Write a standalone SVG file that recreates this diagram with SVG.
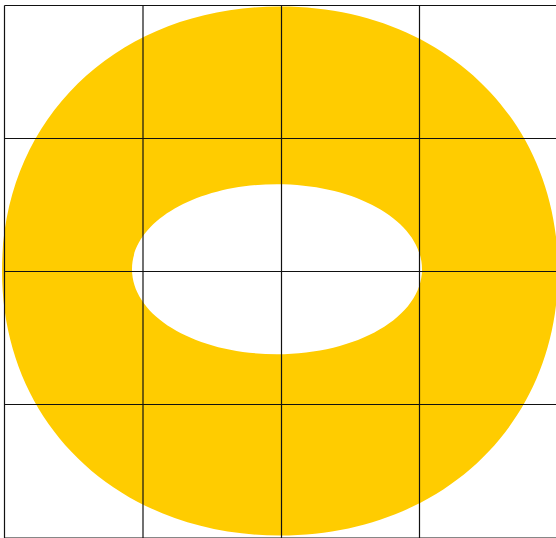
<svg xmlns="http://www.w3.org/2000/svg" width="556" height="538" viewBox="0 0 556 538">
  <style>
    .ring { fill: #FFCC00; fill-rule: evenodd; stroke: none; }
    .grid line { stroke: #111111; stroke-width: 1.2; }
  </style>
  <rect x="0" y="0" width="556" height="538" fill="#FFFFFF"/>
  <path id="ring" class="ring" d="M2,271 C2,117.59 118.76,6.5 280,6.5 C441.24,6.5 558,117.59 558,271 C558,424.41 441.24,535.5 280,535.5 C118.76,535.5 2,424.41 2,271 Z M132,269.2 C132,221.6 196.8,184.2 277,184.2 C357.2,184.2 422,221.6 422,269.2 C422,316.8 357.2,354.2 277,354.2 C196.8,354.2 132,316.8 132,269.2 Z"/>
  <g id="grid" class="grid">
    <line x1="4.5" y1="5.5" x2="4.5" y2="540"/>
    <line x1="143" y1="5.5" x2="143" y2="540"/>
    <line x1="281.5" y1="5.5" x2="281.5" y2="540"/>
    <line x1="419.5" y1="5.5" x2="419.5" y2="540"/>
    <line x1="4.5" y1="5.5" x2="560" y2="5.5"/>
    <line x1="4.5" y1="138.5" x2="560" y2="138.5"/>
    <line x1="4.5" y1="271.5" x2="560" y2="271.5"/>
    <line x1="4.5" y1="404.5" x2="560" y2="404.5"/>
    <line x1="4.5" y1="538" x2="560" y2="538"/>
  </g>
</svg>
